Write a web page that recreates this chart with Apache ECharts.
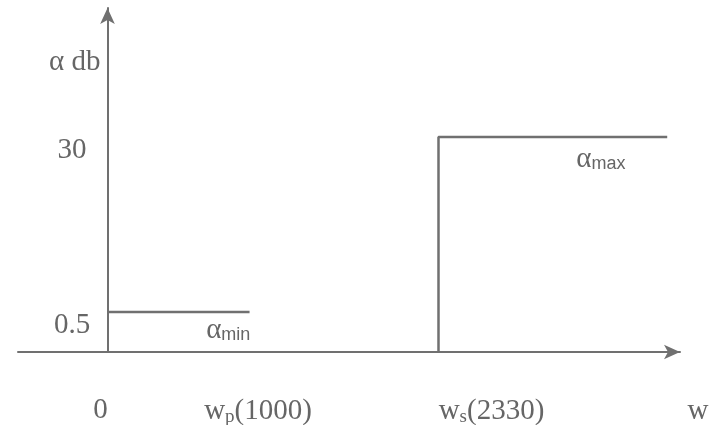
<!DOCTYPE html>
<html><head><meta charset="utf-8">
<script src="https://cdn.jsdelivr.net/npm/echarts@6/dist/echarts.min.js"></script>
<style>html,body{margin:0;padding:0;background:#fff}#c{width:724px;height:425px}</style>
</head><body><div id="c"></div>
<script>
// Frequency axis (w) ticks and labels
const freqTicks = [0, 1000, 2330];
const freqTickText = ['0', 'wp(1000)', 'ws(2330)'];
const freqAxisTitle = 'w';
// Attenuation axis (α, dB) ticks and labels
const attTicks = [0.5, 30];
const attTickText = ['0.5', '30'];
const attAxisTitle = 'α db';
// Specification segments
const passbandFreq = [0, 1000];      // 0 .. wp
const alphaMin = 0.5;                // dB
const stopbandFreq = [2330, 3940];   // ws .. end of sketch
const alphaMax = 30;                 // dB

const X_MIN = -630, X_MAX = 4030;
const Y_MIN = 0.19616, Y_MAX = 613.5;

const LINE = '#707070', TXT = '#666666', FONT = 'Liberation Serif', FS = 29;

const chart = echarts.init(document.getElementById('c'));

const xRich = {
  n0: {fontFamily: FONT, fontSize: FS, color: TXT, padding: [0, 14, 0, 0]},
  n: {fontFamily: FONT, fontSize: FS, color: TXT},
  w1: {fontFamily: FONT, fontSize: FS, color: TXT, padding: [0, 0, 0, 17]},
  w2: {fontFamily: FONT, fontSize: FS, color: TXT, padding: [0, 0, 0, 106]},
  s: {fontFamily: FONT, fontSize: 19, color: TXT, padding: [12, 0, 0, 0]}
};
function fmtX(v) {
  const i = freqTicks.indexOf(v);
  if (i < 0) return '';
  const t = freqTickText[i];
  if (i === 0) return '{n0|' + t + '}';
  const st = i === 1 ? 'w1' : 'w2';
  return '{' + st + '|' + t[0] + '}{s|' + t[1] + '}{n|' + t.slice(2) + '}';
}
const alphaRich = {
  a: {fontFamily: FONT, fontSize: FS, color: TXT},
  s: {fontFamily: 'Liberation Sans', fontSize: 18, color: TXT, padding: [10, 0, 0, 0]}
};

chart.setOption({
  animation: false,
  backgroundColor: '#fff',
  grid: {left: 18, right: 44, top: 8, bottom: 73, containLabel: false, outerBoundsMode: 'none'},
  xAxis: {
    type: 'value', min: X_MIN, max: X_MAX,
    axisLine: {onZero: false, symbol: ['none', 'arrow'], symbolSize: [11, 16], lineStyle: {color: LINE, width: 2}},
    axisTick: {show: false},
    splitLine: {show: false},
    axisLabel: {customValues: freqTicks, formatter: fmtX, rich: xRich, margin: 44, verticalAlign: 'top', align: 'center', fontFamily: FONT, fontSize: FS, color: TXT}
  },
  yAxis: {
    type: 'log', logBase: 10, min: Y_MIN, max: Y_MAX,
    axisLine: {show: true, onZero: true, symbol: ['none', 'arrow'], symbolSize: [11, 16], lineStyle: {color: LINE, width: 2}},
    axisTick: {show: false},
    splitLine: {show: false},
    axisLabel: {customValues: attTicks, formatter: v => { const i = attTicks.indexOf(v); return i < 0 ? '' : attTickText[i]; },
      margin: -54, align: 'center', verticalAlign: 'top', lineHeight: 26, fontFamily: FONT, fontSize: FS, color: TXT}
  },
  series: [
    {
      type: 'line', symbol: 'none', silent: true,
      lineStyle: {color: LINE, width: 2.5},
      data: passbandFreq.map(f => [f, alphaMin]),
      markPoint: {
        symbol: 'circle', symbolSize: 0, silent: true,
        data: [{coord: [passbandFreq[0] + 0.85 * (passbandFreq[1] - passbandFreq[0]), alphaMin],
          label: {show: true, position: 'inside', offset: [0, 18], formatter: '{a|α}{s|min}', rich: alphaRich}}]
      }
    },
    {
      type: 'line', symbol: 'none', silent: true,
      lineStyle: {color: LINE, width: 2.5},
      data: [[stopbandFreq[0], Y_MIN], [stopbandFreq[0], alphaMax], [stopbandFreq[1], alphaMax]],
      markPoint: {
        symbol: 'circle', symbolSize: 0, silent: true,
        data: [{coord: [stopbandFreq[0] + 0.71 * (stopbandFreq[1] - stopbandFreq[0]), alphaMax],
          label: {show: true, position: 'inside', offset: [0, 22], formatter: '{a|α}{s|max}', rich: alphaRich}}]
      }
    }
  ]
});

// Axis titles, placed from the axes' own scales
const origin = chart.convertToPixel({gridIndex: 0}, [0, Y_MIN]);
const xEnd = chart.convertToPixel({gridIndex: 0}, [X_MAX, Y_MIN]);
const yEnd = chart.convertToPixel({gridIndex: 0}, [0, Y_MAX]);
chart.setOption({
  graphic: [
    {type: 'text', x: xEnd[0] + 18, y: origin[1] + 59, silent: true,
      style: {text: freqAxisTitle, font: FS + 'px ' + FONT, fill: TXT, align: 'center', verticalAlign: 'middle'}},
    {type: 'text', x: origin[0] - 7, y: yEnd[1] + 54, silent: true,
      style: {text: attAxisTitle, font: FS + 'px ' + FONT, fill: TXT, align: 'right', verticalAlign: 'middle'}}
  ]
});
</script></body></html>
